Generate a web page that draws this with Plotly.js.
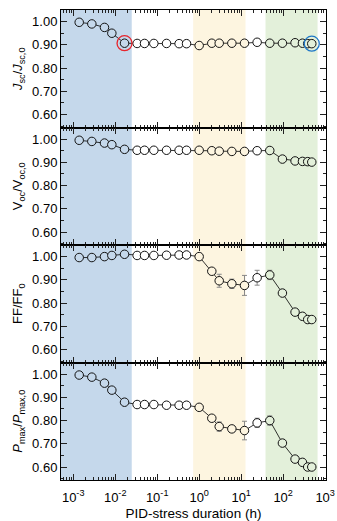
<!DOCTYPE html>
<html><head><meta charset="utf-8">
<script src="https://cdn.plot.ly/plotly-3.0.1.min.js"></script>
<style>html,body{margin:0;padding:0;background:#fff}#chart{width:337px;height:521px}</style>
</head><body><div id="chart"></div>
<script>
// PID-stress duration (h)
const t = [0.00139, 0.00278, 0.00556, 0.00833, 0.0167, 0.0333, 0.05, 0.0833, 0.167, 0.333, 0.5, 1, 2, 3, 6, 12, 24, 48, 96, 192, 288, 384, 480];
const jsc = [0.997, 0.99, 0.975, 0.95, 0.907, 0.906, 0.906, 0.906, 0.906, 0.905, 0.905, 0.897, 0.907, 0.907, 0.907, 0.907, 0.911, 0.907, 0.907, 0.909, 0.907, 0.905, 0.905];
const voc = [0.995, 0.99, 0.983, 0.976, 0.956, 0.952, 0.952, 0.952, 0.952, 0.952, 0.952, 0.952, 0.95, 0.948, 0.947, 0.947, 0.95, 0.951, 0.914, 0.906, 0.904, 0.903, 0.901];
const ff = [0.996, 0.996, 1.0, 1.005, 1.01, 1.005, 1.005, 1.005, 1.006, 1.007, 1.007, 1.0, 0.937, 0.896, 0.883, 0.876, 0.909, 0.921, 0.843, 0.761, 0.743, 0.729, 0.729];
const ffErr = [0, 0, 0, 0, 0, 0, 0, 0, 0, 0, 0, 0, 0.01, 0.028, 0.02, 0.043, 0.032, 0.02, 0, 0, 0, 0, 0];
const pmax = [0.996, 0.987, 0.961, 0.931, 0.879, 0.869, 0.869, 0.869, 0.866, 0.866, 0.866, 0.857, 0.81, 0.774, 0.764, 0.757, 0.79, 0.80, 0.703, 0.634, 0.62, 0.60, 0.60];
const pmaxErr = [0, 0, 0, 0, 0, 0, 0, 0, 0, 0, 0, 0, 0.008, 0.02, 0.015, 0.04, 0.02, 0.02, 0, 0, 0, 0, 0];
const zeroErr = t.map(() => 0);

const xTickVals = [0.001, 0.01, 0.1, 1, 10, 100, 1000];
const xTickText = ['10<sup>-3</sup>', '10<sup>-2</sup>', '10<sup>-1</sup>', '10<sup>0</sup>', '10<sup>1</sup>', '10<sup>2</sup>', '10<sup>3</sup>'];
const yTickVals = [0.6, 0.7, 0.8, 0.9, 1.0];
const yTitles = ['<i>J</i><sub>sc</sub>/<i>J</i><sub>sc,0</sub>', 'V<sub>oc</sub>/V<sub>oc,0</sub>', 'FF/FF<sub>0</sub>', '<i>P</i><sub>max</sub>/<i>P</i><sub>max,0</sub>'];
// stress regions (h)
const regionStart = [0.0003, 0.72, 38];
const regionEnd = [0.0248, 12.7, 660];
const regionColor = ['#c5d8eb', '#fdf5e0', '#e3f0da'];
const highlightIdx = [4, 22];
const highlightColor = ['#e8232a', '#1f78c8'];

const series = [jsc, voc, ff, pmax];
const errs = [zeroErr, zeroErr, ffErr, pmaxErr];

const minorVals = [];
for (let d = -4; d <= 3; d++) for (let k = 2; k <= 9; k++) minorVals.push(k * Math.pow(10, d));

// marker fill = background colour under each point
const fillColors = t.map(v => {
  for (let r = 0; r < regionStart.length; r++) if (v >= regionStart[r] && v <= regionEnd[r]) return regionColor[r];
  return '#ffffff';
});

const font = 'Liberation Sans, Arial, sans-serif';
const traces = [];
series.forEach((s, i) => {
  const n = i === 0 ? '' : String(i + 1);
  traces.push({
    x: t, y: s, xaxis: 'x' + n, yaxis: 'y' + n, type: 'scatter', mode: 'lines+markers',
    line: {color: '#000', width: 0.8},
    marker: {symbol: 'circle', size: 8.5, color: fillColors, line: {color: '#111', width: 1}},
    error_y: {type: 'data', array: errs[i], visible: true, color: '#888', thickness: 1, width: 2.5},
    showlegend: false, hoverinfo: 'skip'
  });
});
highlightIdx.forEach((k, j) => {
  traces.push({
    x: [t[k]], y: [jsc[k]], xaxis: 'x', yaxis: 'y', type: 'scatter', mode: 'markers',
    marker: {symbol: 'circle-open', size: 15, color: highlightColor[j], line: {color: highlightColor[j], width: 1.3}},
    showlegend: false, hoverinfo: 'skip'
  });
});

const layout = {
  width: 337, height: 521,
  margin: {l: 61, r: 11, t: 10, b: 41},
  paper_bgcolor: '#fff', plot_bgcolor: 'rgba(0,0,0,0)',
  font: {family: font, size: 13, color: '#000'},
  shapes: regionStart.map((s, i) => ({
    type: 'rect', xref: 'x', yref: 'paper', x0: s, x1: regionEnd[i], y0: 0, y1: 1,
    fillcolor: regionColor[i], line: {width: 0}, layer: 'below'
  }))
};

const domains = [[0.75, 1], [0.5, 0.75], [0.25, 0.5], [0, 0.25]];
for (let i = 0; i < 4; i++) {
  const n = i === 0 ? '' : String(i + 1);
  const bottom = i === 3;
  layout['xaxis' + n] = {
    type: 'log', range: [-3.29, 3.02], anchor: 'y' + n,
    matches: i === 0 ? undefined : 'x',
    showline: true, linecolor: '#000', linewidth: 1, mirror: 'allticks',
    ticks: 'inside', ticklen: 6, tickwidth: 1, tickcolor: '#222',
    tickmode: 'array', tickvals: xTickVals, ticktext: xTickText,
    showticklabels: bottom, tickfont: {size: 13, family: font}, ticklabelstandoff: 5,
    minor: {tickmode: 'array', tickvals: minorVals, ticks: 'inside', ticklen: 3, tickwidth: 1, tickcolor: '#222', showgrid: false},
    showgrid: false, zeroline: false,
    title: bottom ? {text: 'PID-stress duration (h)', font: {size: 13.5, family: font}, standoff: 4} : {text: ''}
  };
  layout['yaxis' + n] = {
    domain: domains[i], anchor: 'x' + n, range: [0.544, 1.05],
    showline: true, linecolor: '#000', linewidth: 1, mirror: 'allticks',
    ticks: 'inside', ticklen: 6, tickwidth: 1, tickcolor: '#222',
    tickmode: 'array', tickvals: yTickVals, tickformat: '.2f',
    tickfont: {size: 13, family: font},
    minor: {dtick: 0.05, tick0: 0.55, ticks: 'inside', ticklen: 3, tickwidth: 1, tickcolor: '#222', showgrid: false},
    showgrid: false, zeroline: false,
    title: {text: yTitles[i], font: {size: 13, family: font}, standoff: 6}
  };
}

Plotly.newPlot('chart', traces, layout, {displayModeBar: false, staticPlot: true});
</script>
</body></html>
